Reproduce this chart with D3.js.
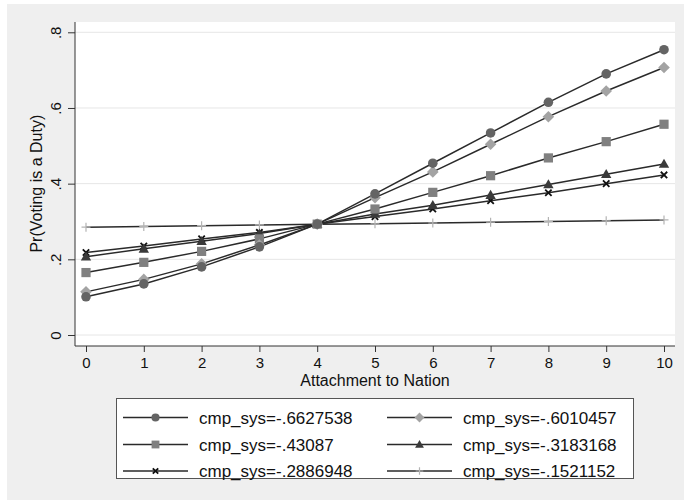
<!DOCTYPE html>
<html>
<head>
<meta charset="utf-8">
<script src="https://cdn.jsdelivr.net/npm/d3@7"></script>
<style>
  html, body { margin: 0; padding: 0; background: #fff; }
  svg { display: block; font-family: "Liberation Sans", Arial, Helvetica, sans-serif; }
</style>
</head>
<body>
<svg id="chart" width="684" height="501"></svg>
<script>
// Attachment to Nation (x) and predicted probabilities per cmp_sys level
const xValues = [0, 1, 2, 3, 4, 5, 6, 7, 8, 9, 10];
const seriesLabels = [
  "cmp_sys=-.6627538", "cmp_sys=-.6010457", "cmp_sys=-.43087",
  "cmp_sys=-.3183168", "cmp_sys=-.2886948", "cmp_sys=-.1521152"
];
const s6627538 = [0.101, 0.135, 0.180, 0.233, 0.293, 0.373, 0.454, 0.534, 0.615, 0.690, 0.754];
const s6010457 = [0.114, 0.147, 0.188, 0.238, 0.293, 0.363, 0.431, 0.504, 0.577, 0.645, 0.707];
const s43087   = [0.165, 0.192, 0.221, 0.254, 0.293, 0.333, 0.377, 0.421, 0.468, 0.511, 0.557];
const s3183168 = [0.207, 0.228, 0.248, 0.268, 0.293, 0.320, 0.343, 0.370, 0.398, 0.425, 0.452];
const s2886948 = [0.218, 0.235, 0.254, 0.271, 0.293, 0.313, 0.333, 0.355, 0.376, 0.400, 0.423];
const s1521152 = [0.285, 0.287, 0.289, 0.291, 0.293, 0.294, 0.296, 0.298, 0.300, 0.302, 0.304];
const yTicks = [0, 0.2, 0.4, 0.6, 0.8];
const yTickLabels = ["0", ".2", ".4", ".6", ".8"];
const xTitle = "Attachment to Nation";
const yTitle = "Pr(Voting is a Duty)";

const seriesValues = [s6627538, s6010457, s43087, s3183168, s2886948, s1521152];
const markerStyle = [
  { shape: "circle",   fill: "#646464", size: 4.8 },
  { shape: "diamond",  fill: "#a3a3a3", size: 5.8 },
  { shape: "square",   fill: "#808080", size: 4.6 },
  { shape: "triangle", fill: "#3a3a3a", size: 5.2 },
  { shape: "x",        fill: "#111111", size: 3.2 },
  { shape: "plus",     fill: "#b4b4b4", size: 4.5 }
];

const svg = d3.select("#chart");
const plot = { left: 75, right: 675, top: 22, bottom: 346 };

const x = d3.scaleLinear().domain([0, 10]).range([86, 664]);
const y = d3.scaleLinear().domain([0, 0.8]).range([335, 32.3]);

// outer graph region
svg.append("rect").attr("x", 7).attr("y", 4).attr("width", 677).attr("height", 496)
  .attr("fill", "#efefef");
// plot region
svg.append("rect").attr("x", plot.left).attr("y", plot.top)
  .attr("width", plot.right - plot.left).attr("height", plot.bottom - plot.top)
  .attr("fill", "#ffffff");

// horizontal grid
svg.append("g").selectAll("line").data(yTicks).join("line")
  .attr("x1", plot.left).attr("x2", plot.right)
  .attr("y1", d => y(d)).attr("y2", d => y(d))
  .attr("stroke", "#e6e6e6").attr("stroke-width", 1);

// y axis
const yAxis = d3.axisLeft(y).tickValues(yTicks)
  .tickFormat((d, i) => yTickLabels[i]).tickSize(7).tickPadding(6);
const gy = svg.append("g").attr("transform", `translate(${plot.left},0)`).call(yAxis);
gy.select(".domain").attr("d", `M0,${plot.top}V${plot.bottom}`).attr("stroke", "#333");
gy.selectAll(".tick line").attr("stroke", "#333");
gy.selectAll(".tick text")
  .attr("font-size", 15).attr("fill", "#111")
  .attr("x", null).attr("dy", null)
  .attr("text-anchor", "middle")
  .attr("transform", "translate(-14,0) rotate(-90)")
  .attr("y", 0);

// x axis
const xAxis = d3.axisBottom(x).tickValues(xValues).tickSize(6).tickPadding(5);
const gx = svg.append("g").attr("transform", `translate(0,${plot.bottom})`).call(xAxis);
gx.select(".domain").attr("d", `M${plot.left},0H${plot.right}`).attr("stroke", "#333");
gx.selectAll(".tick line").attr("stroke", "#333");
gx.selectAll(".tick text").attr("font-size", 15).attr("fill", "#111");

// axis titles
svg.append("text").attr("x", (plot.left + plot.right) / 2).attr("y", 385.5)
  .attr("text-anchor", "middle").attr("font-size", 16).attr("fill", "#111").text(xTitle);
svg.append("text").attr("transform", `translate(41.5,${(y(0) + y(0.8)) / 2}) rotate(-90)`)
  .attr("text-anchor", "middle").attr("font-size", 16).attr("fill", "#111").text(yTitle);

// marker drawing helper
function drawMarker(g, st, cx, cy, scale) {
  const s = st.size * (scale || 1);
  if (st.shape === "circle") {
    g.append("circle").attr("cx", cx).attr("cy", cy).attr("r", s).attr("fill", st.fill);
  } else if (st.shape === "diamond") {
    g.append("path").attr("d", `M${cx},${cy - s}L${cx + s},${cy}L${cx},${cy + s}L${cx - s},${cy}Z`)
      .attr("fill", st.fill);
  } else if (st.shape === "square") {
    g.append("rect").attr("x", cx - s).attr("y", cy - s).attr("width", 2 * s).attr("height", 2 * s)
      .attr("fill", st.fill);
  } else if (st.shape === "triangle") {
    g.append("path").attr("d", `M${cx},${cy - s}L${cx + s},${cy + s * 0.75}L${cx - s},${cy + s * 0.75}Z`)
      .attr("fill", st.fill);
  } else if (st.shape === "x") {
    g.append("path").attr("d", `M${cx - s},${cy - s}L${cx + s},${cy + s}M${cx - s},${cy + s}L${cx + s},${cy - s}`)
      .attr("stroke", st.fill).attr("stroke-width", 1.8);
  } else if (st.shape === "plus") {
    g.append("path").attr("d", `M${cx},${cy - s}V${cy + s}M${cx - s},${cy}H${cx + s}`)
      .attr("stroke", st.fill).attr("stroke-width", 1.2);
  }
}

const line = d3.line().x((d, i) => x(xValues[i])).y(d => y(d));
const gLines = svg.append("g");
seriesValues.forEach((vals, k) => {
  const g = gLines.append("g");
  g.append("path").datum(vals).attr("d", line)
    .attr("fill", "none").attr("stroke", "#2a2a2a").attr("stroke-width", 1.5);
});
// markers on top of all lines, drawn last series first
for (let k = seriesValues.length - 1; k >= 0; k--) {
  const g = gLines.append("g");
  seriesValues[k].forEach((v, i) => drawMarker(g, markerStyle[k], x(xValues[i]), y(v)));
}

// legend
const legend = svg.append("g");
legend.append("rect").attr("x", 116.5).attr("y", 398.5).attr("width", 517).attr("height", 80)
  .attr("fill", "#fff").attr("stroke", "#555").attr("stroke-width", 1);
const legCols = [{ x1: 123, x2: 188, tx: 199 }, { x1: 387, x2: 452, tx: 463 }];
const legRows = [417.5, 444.5, 471];
seriesLabels.forEach((lab, k) => {
  const c = legCols[k % 2], r = legRows[Math.floor(k / 2)];
  const g = legend.append("g");
  g.append("line").attr("x1", c.x1).attr("x2", c.x2).attr("y1", r).attr("y2", r)
    .attr("stroke", "#2a2a2a").attr("stroke-width", 1.5);
  drawMarker(g, markerStyle[k], (c.x1 + c.x2) / 2, r, 0.85);
  g.append("text").attr("x", c.tx).attr("y", r + 6).attr("font-size", 17).attr("fill", "#111").text(lab);
});
</script>
</body>
</html>
